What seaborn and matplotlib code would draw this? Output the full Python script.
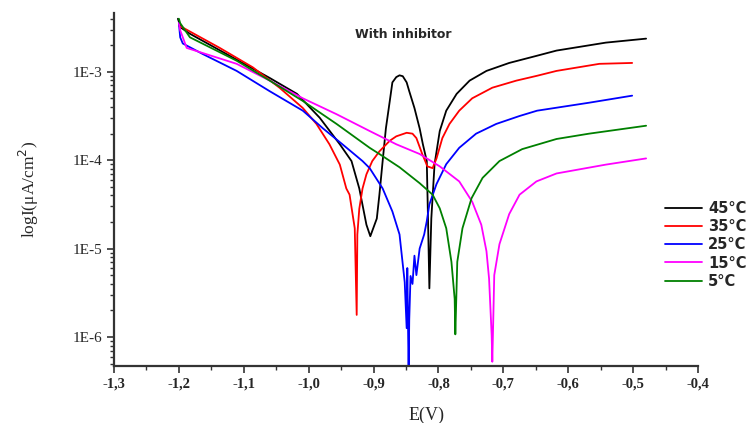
import numpy as np
import pandas as pd
import matplotlib
matplotlib.use("Agg")
import matplotlib.pyplot as plt
import matplotlib.ticker as mticker
import seaborn as sns

e_45 = [-1.2015, -1.197, -1.183, -1.06, -1.018, -0.983, -0.952, -0.934, -0.922, -0.911,
        -0.905, -0.895, -0.891, -0.886, -0.881, -0.875, -0.871, -0.865, -0.86, -0.855,
        -0.849, -0.845, -0.837, -0.829, -0.824, -0.818, -0.816, -0.814, -0.811, -0.806,
        -0.798, -0.788, -0.772, -0.752, -0.726, -0.691, -0.649, -0.618, -0.542, -0.48]
log_45 = [-2.40, -2.50, -2.57, -3.07, -3.25, -3.52, -3.82, -4.01, -4.32, -4.73,
          -4.86, -4.66, -4.39, -4.01, -3.64, -3.33, -3.12, -3.06, -3.04, -3.05,
          -3.12, -3.22, -3.41, -3.64, -3.82, -4.01, -4.70, -5.45, -4.66, -4.045,
          -3.67, -3.44, -3.25, -3.10, -2.99, -2.90, -2.82, -2.76, -2.67, -2.625]

e_35 = [-1.20, -1.194, -1.137, -1.086, -1.045, -1.009, -0.988, -0.968, -0.952, -0.942,
        -0.937, -0.929, -0.926, -0.925, -0.922, -0.917, -0.911, -0.902, -0.891, -0.875,
        -0.865, -0.849, -0.840, -0.834, -0.825, -0.817, -0.809, -0.803, -0.794, -0.783,
        -0.768, -0.748, -0.717, -0.68, -0.648, -0.618, -0.552, -0.5015]
log_35 = [-2.48, -2.50, -2.73, -2.95, -3.18, -3.41, -3.59, -3.82, -4.05, -4.32,
          -4.39, -4.77, -5.75, -4.84, -4.55, -4.32, -4.16, -4.01, -3.90, -3.78,
          -3.73, -3.69, -3.70, -3.75, -3.93, -4.07, -4.09, -3.98, -3.75, -3.59,
          -3.44, -3.30, -3.18, -3.10, -3.045, -2.99, -2.91, -2.90]

e_25 = [-1.20, -1.198, -1.194, -1.163, -1.111, -1.06, -1.009, -0.978, -0.948, -0.917,
        -0.906, -0.886, -0.871, -0.86, -0.852, -0.849, -0.848, -0.846, -0.845, -0.843,
        -0.840, -0.837, -0.834, -0.829, -0.822, -0.818, -0.814, -0.803, -0.788, -0.768,
        -0.742, -0.711, -0.675, -0.648, -0.568, -0.5015]
log_25 = [-2.45, -2.61, -2.68, -2.80, -2.99, -3.22, -3.44, -3.64, -3.82, -4.01,
          -4.09, -4.32, -4.58, -4.84, -5.38, -5.90, -5.22, -6.40, -5.80, -5.31,
          -5.40, -5.08, -5.30, -5.00, -4.84, -4.69, -4.50, -4.27, -4.045, -3.86,
          -3.70, -3.59, -3.50, -3.44, -3.35, -3.27]

e_15 = [-1.20, -1.198, -1.188, -1.111, -1.06, -1.009, -0.957, -0.906, -0.865, -0.829,
        -0.798, -0.768, -0.748, -0.734, -0.726, -0.722, -0.718, -0.717, -0.714, -0.706,
        -0.691, -0.675, -0.649, -0.618, -0.542, -0.48]
log_15 = [-2.45, -2.53, -2.73, -2.91, -3.10, -3.30, -3.48, -3.67, -3.82, -3.93,
          -4.07, -4.24, -4.47, -4.73, -5.03, -5.34, -5.98, -6.28, -5.30, -4.95,
          -4.61, -4.39, -4.24, -4.15, -4.05, -3.98]

e_5 = [-1.20, -1.198, -1.183, -1.111, -1.06, -1.009, -0.957, -0.906, -0.891, -0.86,
       -0.829, -0.809, -0.798, -0.788, -0.780, -0.775, -0.774, -0.771, -0.763, -0.749,
       -0.732, -0.706, -0.671, -0.618, -0.568, -0.48]
log_5 = [-2.40, -2.45, -2.61, -2.875, -3.10, -3.33, -3.59, -3.86, -3.93, -4.08,
         -4.26, -4.39, -4.545, -4.77, -5.15, -5.57, -5.97, -5.15, -4.77, -4.43,
         -4.20, -4.01, -3.875, -3.76, -3.70, -3.61]

labels = ["45°C", "35°C", "25°C", "15°C", "5°C"]
colors = ["black", "red", "blue", "magenta", "green"]

frames = []
for lab, e, lg in zip(labels, [e_45, e_35, e_25, e_15, e_5],
                      [log_45, log_35, log_25, log_15, log_5]):
    frames.append(pd.DataFrame({"E": e, "I": 10 ** np.array(lg), "T": lab}))
df = pd.concat(frames, ignore_index=True)

sns.set_style("white")
plt.rcParams["font.family"] = ["DejaVu Sans"]

fig = plt.figure(figsize=(7.56, 4.23), dpi=100)
ax = fig.add_axes([0.1508, 0.1348, 0.7725, 0.834])

sns.lineplot(data=df, x="E", y="I", hue="T", hue_order=labels,
             palette=dict(zip(labels, colors)), sort=False, estimator=None,
             linewidth=1.3, ax=ax)

ax.set_yscale("log")
ax.set_xlim(-1.3, -0.4)
ax.set_ylim(4.7e-7, 4.6e-3)

for s in ["top", "right"]:
    ax.spines[s].set_visible(False)
for s in ["left", "bottom"]:
    ax.spines[s].set_linewidth(1.6)
    ax.spines[s].set_color("#333333")

xt = np.arange(-1.3, -0.39, 0.1)
ax.set_xticks(xt)
ax.set_xticklabels([f"{v:.1f}".replace(".", ",") for v in xt],
                   fontfamily="Liberation Serif", fontweight="bold", fontsize=10.5)
ax.xaxis.set_minor_locator(mticker.MultipleLocator(0.05))
ax.set_yticks([1e-6, 1e-5, 1e-4, 1e-3])
ax.set_yticklabels(["1E-6", "1E-5", "1E-4", "1E-3"],
                   fontfamily="Liberation Serif", fontsize=11)
ax.yaxis.set_minor_locator(mticker.LogLocator(base=10, subs=np.arange(2, 10)))
ax.yaxis.set_minor_formatter(mticker.NullFormatter())
ax.tick_params(axis="both", which="major", direction="out", length=5, width=1.2,
               color="#333333", bottom=True, left=True)
ax.tick_params(axis="both", which="minor", direction="out", length=3, width=1.0,
               color="#333333", bottom=True, left=True)

ax.set_xlabel("E(V)", fontfamily="Liberation Serif", fontsize=13)
ax.xaxis.set_label_coords(0.535, -0.115)
ax.set_ylabel("logI(μA/cm$^2$)", fontfamily="Liberation Serif", fontsize=12.5)
ax.yaxis.set_label_coords(-0.125, 0.5)

ax.text(0.495, 0.94, "With inhibitor", transform=ax.transAxes, ha="center",
        va="center", fontsize=9, fontweight="bold")

ax.legend(loc="upper left", bbox_to_anchor=(0.879, 0.525), bbox_transform=fig.transFigure,
          frameon=False, prop={"size": 10.5, "weight": "bold"}, handlelength=2.6,
          handletextpad=0.4, labelspacing=0.22, borderaxespad=0, borderpad=0)
ax.set_facecolor("white")

fig.savefig("out.png", dpi=100, facecolor="white")
